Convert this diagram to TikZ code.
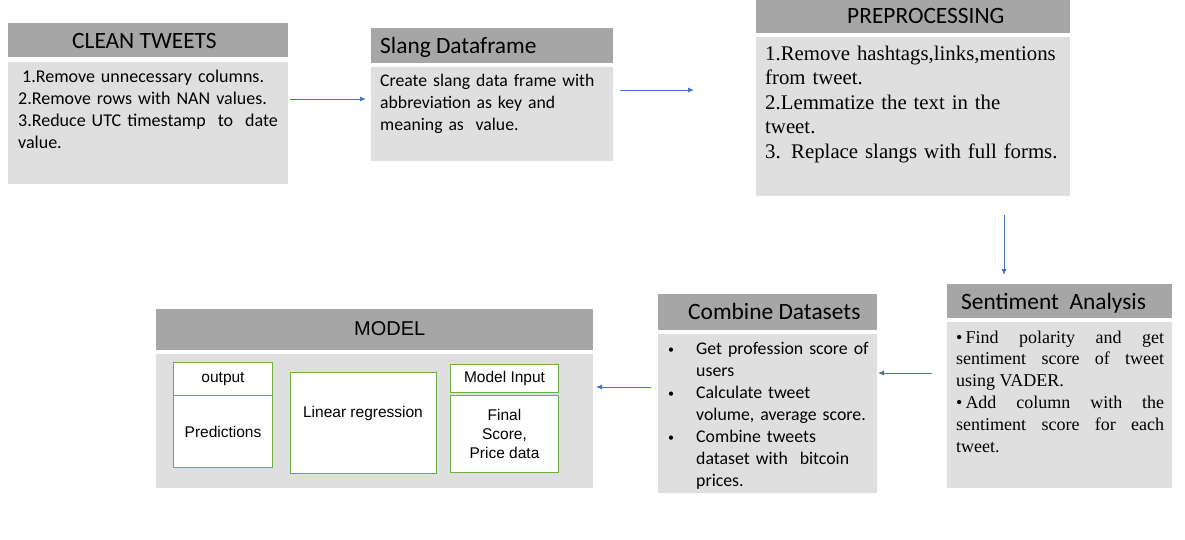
\documentclass[tikz,border=0pt]{standalone}
\usepackage{fontspec}
\setmainfont{Carlito}
\newfontfamily\cambriaf{Liberation Serif}
\newfontfamily\arialf{Liberation Sans}
\usetikzlibrary{arrows.meta}
\definecolor{hdrgray}{HTML}{A6A6A6}
\definecolor{bodygray}{HTML}{DFDFDF}
\definecolor{arrowblue}{HTML}{4472C4}
\definecolor{boxgreen}{HTML}{70AD47}
\newcommand{\smbul}{\makebox[29pt][l]{\hspace*{1pt}\raisebox{1pt}{\fontsize{12}{12}\selectfont\textbullet}}}
\begin{document}
\begin{tikzpicture}[x=1pt,y=-1pt,
  hdr/.style={fill=hdrgray, draw=none, inner sep=0pt, anchor=north west},
  bodybox/.style={fill=bodygray, draw=none, inner sep=0pt, anchor=north west},
  ttl/.style={inner sep=0pt, anchor=base west, font=\fontsize{23.4}{28}\selectfont},
  txt/.style={inner sep=0pt, anchor=base west, align=left},
  gbox/.style={draw=boxgreen, fill=white, line width=1pt, inner sep=0pt, anchor=north west, align=center, font=\arialf\fontsize{15.5}{19}\selectfont},
  flow/.style={draw=arrowblue, line width=0.9pt, -{Latex[length=6pt,width=5pt]}}
]
\useasboundingbox[fill=white] (0,0) rectangle (1185,539);

% CLEAN TWEETS
\node[hdr, minimum width=280pt, minimum height=34pt] (cth) at (8,23) {};
\node[bodybox, minimum width=280pt, minimum height=122pt] (ctb) at (8,62) {};
\node[ttl] (ctt) at (72,48) {CLEAN TWEETS};
\node[txt, text width=270pt, font=\fontsize{18}{22}\selectfont] (ctx) at (18,82)
  {\hspace*{4pt}1.Remove unnecessary columns.\\2.Remove rows with NAN values.\\3.Reduce UTC timestamp\ \ to\ \ date\\value.};

% Slang Dataframe
\node[hdr, minimum width=242pt, minimum height=35pt] (sdh) at (371,28) {};
\node[bodybox, minimum width=242pt, minimum height=94pt] (sdb) at (371,67) {};
\node[ttl] (sdt) at (380,53) {Slang Dataframe};
\node[txt, text width=232pt, font=\fontsize{17.7}{22}\selectfont] (sdx) at (380,86)
  {Create slang data frame with\\abbreviation as key and\\meaning as\ \ value.};

% PREPROCESSING
\node[hdr, minimum width=314pt, minimum height=33pt] (pph) at (756,0) {};
\node[bodybox, minimum width=314pt, minimum height=159pt] (ppb) at (756,37) {};
\node[ttl] (ppt) at (847,23.5) {PREPROCESSING};
\node[txt, text width=304pt, font=\cambriaf\fontsize{20.8}{24.5}\selectfont] (ppx) at (765,60)
  {1.Remove hashtags,links,mentions\\from tweet.\\2.Lemmatize the text in the\\tweet.\\3. Replace slangs with full forms.};

% Sentiment Analysis
\node[hdr, minimum width=225pt, minimum height=34pt] (sah) at (947,284) {};
\node[bodybox, minimum width=225pt, minimum height=166pt] (sab) at (947,322) {};
\node[ttl] (sat) at (961,309) {Sentiment\ \ Analysis};
\node[txt, text width=208pt, align=justify, font=\cambriaf\fontsize{18}{21.8}\selectfont] (sax) at (956,343)
  {\textbullet\,Find polarity and get\linebreak sentiment score of tweet\linebreak using VADER.\\
   \textbullet\,Add column with the\linebreak sentiment score for each\linebreak tweet.};

% Combine Datasets
\node[hdr, minimum width=219pt, minimum height=36pt] (cdh) at (658,294) {};
\node[bodybox, minimum width=219pt, minimum height=159pt] (cdb) at (658,334) {};
\node[ttl] (cdt) at (688,319) {Combine Datasets};
\node[txt, text width=210pt, font=\fontsize{17.8}{22}\selectfont] (cdx) at (667,354)
  {\smbul Get profession score of\\\hspace*{29pt}users\\
   \smbul Calculate tweet\\\hspace*{29pt}volume, average score.\\
   \smbul Combine tweets\\\hspace*{29pt}dataset with\ \ bitcoin\\\hspace*{29pt}prices.};

% MODEL
\node[hdr, minimum width=437pt, minimum height=41pt] (mdh) at (156,309) {};
\node[bodybox, minimum width=437pt, minimum height=134pt] (mdb) at (156,354) {};
\node[ttl, font=\arialf\fontsize{20}{24}\selectfont] (mdt) at (354,335) {MODEL};
\node[gbox, minimum width=99pt, minimum height=33pt] (outb) at (173,362) {output};
\node[gbox, minimum width=99pt, minimum height=72pt] (predb) at (173,395) {Predictions};
\node[gbox, minimum width=146pt, minimum height=101pt] (lrb) at (290,372) {};
\node[inner sep=0pt, font=\arialf\fontsize{15.5}{19}\selectfont] (lrt) at (363,413) {Linear regression};
\node[gbox, minimum width=108pt, minimum height=28pt] (mib) at (450,364) {Model Input};
\node[gbox, minimum width=108pt, minimum height=77pt] (fsb) at (450,395) {Final\\Score,\\Price data};

% connectors
\coordinate (a1s) at (290,99);  \coordinate (a1e) at (366,99);
\coordinate (a2s) at (620,90);  \coordinate (a2e) at (694,90);
\coordinate (a3s) at (1004,215); \coordinate (a3e) at (1004,275);
\coordinate (a4s) at (932,373); \coordinate (a4e) at (878,373);
\coordinate (a5s) at (651,387); \coordinate (a5e) at (596,387);
\draw[flow] (a1s) -- (a1e);
\draw[flow] (a2s) -- (a2e);
\draw[flow] (a3s) -- (a3e);
\draw[flow] (a4s) -- (a4e);
\draw[flow] (a5s) -- (a5e);
\end{tikzpicture}
\end{document}
